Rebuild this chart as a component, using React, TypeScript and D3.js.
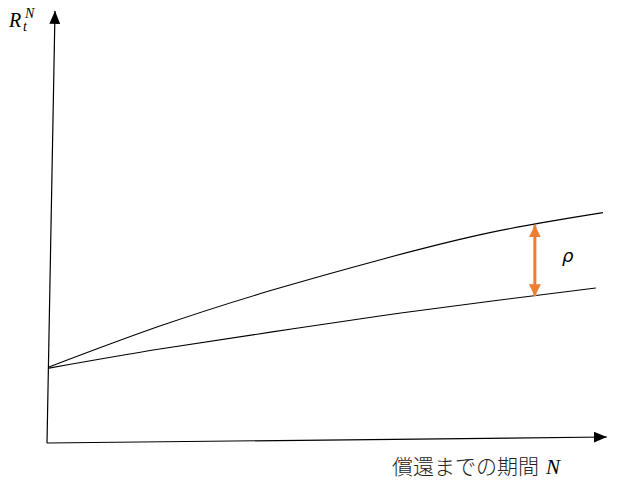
import React from "react";
import * as d3 from "d3";

const upperN = [0, 2, 4, 6, 8, 10];
const upperR = [1.755, 2.7, 3.52, 4.24, 4.87, 5.32];
const lowerN = [0, 2, 4, 6, 8, 9.87];
const lowerR = [1.73, 2.17, 2.56, 2.94, 3.28, 3.58];
const rhoN = 8.77;
const rhoTop = 5.03;
const rhoBottom = 3.39;
const xLabel = "償還までの期間";
const rhoLabel = "ρ";

const W = 624;
const H = 482;

export default function App() {
  const x = d3.scaleLinear().domain([0, 10]).range([49, 603]);
  const y = d3.scaleLinear().domain([0, 10]).range([443, 10]);
  const line = d3
    .line<[number, number]>()
    .x((d) => x(d[0]))
    .y((d) => y(d[1]))
    .curve(d3.curveNatural);
  const up = upperN.map((n, i) => [n, upperR[i]] as [number, number]);
  const lo = lowerN.map((n, i) => [n, lowerR[i]] as [number, number]);
  const orange = "#ED7D31";
  const x0 = x(0) - 2;
  const y0 = y(0);
  return (
    <svg
      width={W}
      height={H}
      style={{ position: "fixed", left: 0, top: 0, background: "#fff" }}
    >
      <defs>
        <marker
          id="ah"
          viewBox="0 0 12 10"
          refX={12}
          refY={5}
          markerWidth={13}
          markerHeight={11}
          markerUnits="userSpaceOnUse"
          orient="auto"
        >
          <path d="M0,0 L12,5 L0,10 z" fill="#000" />
        </marker>
        <marker
          id="oh"
          viewBox="0 0 10 10"
          refX={10}
          refY={5}
          markerWidth={12}
          markerHeight={12}
          markerUnits="userSpaceOnUse"
          orient="auto-start-reverse"
        >
          <path d="M0,0 L10,5 L0,10 z" fill={orange} />
        </marker>
      </defs>
      {/* axes */}
      <line x1={x0} y1={y0} x2={x0 + 8} y2={y(9.98)} stroke="#000" strokeWidth={1.2} markerEnd="url(#ah)" />
      <line x1={x0} y1={y0} x2={x(10.07)} y2={y0 - 6} stroke="#000" strokeWidth={1.2} markerEnd="url(#ah)" />
      {/* curves */}
      <path d={line(up) || ""} fill="none" stroke="#000" strokeWidth={1.1} />
      <path d={line(lo) || ""} fill="none" stroke="#000" strokeWidth={1.1} />
      {/* rho arrow */}
      <line
        x1={x(rhoN)}
        y1={y(rhoTop)}
        x2={x(rhoN)}
        y2={y(rhoBottom)}
        stroke={orange}
        strokeWidth={3}
        markerStart="url(#oh)"
        markerEnd="url(#oh)"
      />
      <text x={562} y={262} fontFamily="'DejaVu Sans', sans-serif" fontStyle="italic" fontSize={18} fill="#000">
        {rhoLabel}
      </text>
      {/* y label */}
      <text x={9} y={27} fontFamily="'Liberation Serif', serif" fontStyle="italic" fontSize={20} fill="#000">
        R
      </text>
      <text x={25} y={18} fontFamily="'Liberation Serif', serif" fontStyle="italic" fontSize={14} fill="#000">
        N
      </text>
      <text x={23} y={31} fontFamily="'Liberation Serif', serif" fontStyle="italic" fontSize={14} fill="#000">
        t
      </text>
      {/* x label */}
      <text x={392} y={474} fontFamily="'Noto Sans CJK JP', sans-serif" fontWeight={300} fontSize={21} fill="#222">
        {xLabel}
      </text>
      <text x={546} y={474} fontFamily="'Liberation Serif', serif" fontStyle="italic" fontSize={21} fill="#000">
        N
      </text>
    </svg>
  );
}
